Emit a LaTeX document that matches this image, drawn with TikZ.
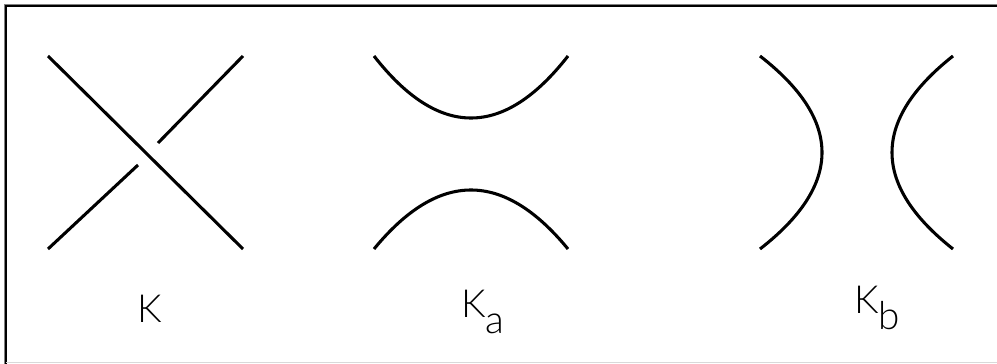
\documentclass[tikz,border=0pt]{standalone}
\usepackage{fontspec}
\setmainfont{Lato}[UprightFont=* Light]
\usepackage{tikz}
\usetikzlibrary{positioning}

\tikzset{
  strand/.style={line width=2.3pt},
  knotlabel/.style={anchor=base west, inner sep=0pt, font=\fontsize{29}{30}\selectfont}
}

\begin{document}
\begin{tikzpicture}[x=0.75pt,y=0.75pt,yscale=-1,xscale=1]
        \useasboundingbox (0,0) rectangle (997,364);
        %Frame
        \draw [color=gray, line width=0.8pt] (4.5,364) -- (4.5,4.5) -- (997,4.5) ;
        \draw [line width=1.4pt] (6,364) -- (6,6) -- (997,6) ;
        \draw [color=black!15, line width=0.8pt] (6,362.5) -- (997,362.5) ;

        %Crossing K: over strand
        \draw [strand] (48,56) -- (243,249) ;
        %Crossing K: under strand
        \draw [strand] (48,249) -- (138,165) ;
        \draw [strand] (158,143) -- (243,56) ;

        %Smoothing Ka
        \draw [strand] (374,56) .. controls (438.67,138.67) and (503.33,138.67) .. (568,56) ;
        \draw [strand] (374,249) .. controls (438.67,170.33) and (503.33,170.33) .. (568,249) ;

        %Smoothing Kb
        \draw [strand] (760,56) .. controls (842.67,120.33) and (842.67,184.67) .. (760,249) ;
        \draw [strand] (953,56) .. controls (871.67,120.33) and (871.67,184.67) .. (953,249) ;

        % Text Node
        \node [knotlabel] (labK) at (137,322) {K};
        % Text Node
        \node [knotlabel] (labKa) at (461,317) {K\raisebox{-0.42em}{a}};
        % Text Node
        \node [knotlabel] (labKb) at (854,313) {K\raisebox{-0.42em}{b}};
\end{tikzpicture}
\end{document}
